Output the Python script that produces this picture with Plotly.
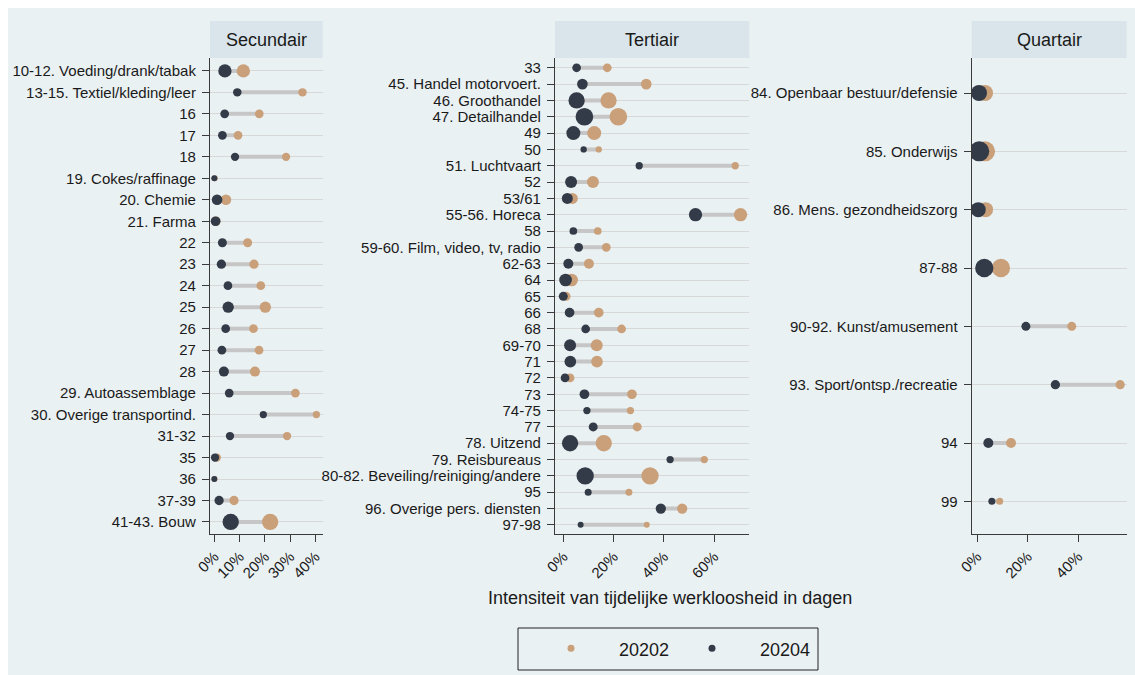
import numpy as np
import plotly.graph_objects as go

# ---- Gegevens per sector -------------------------------------------------
sec_labels = [
    "10-12. Voeding/drank/tabak", "13-15. Textiel/kleding/leer", "16", "17", "18",
    "19. Cokes/raffinage", "20. Chemie", "21. Farma", "22", "23", "24", "25", "26",
    "27", "28", "29. Autoassemblage", "30. Overige transportind.", "31-32", "35",
    "36", "37-39", "41-43. Bouw",
]
sec_20202 = [11.5, 34.9, 17.8, 9.4, 28.4, 0.2, 4.6, 0.6, 13.2, 15.7, 18.4, 20.2,
             15.5, 17.7, 16.1, 32.1, 40.4, 28.8, 1.0, 0.1, 7.8, 22.1]
sec_20204 = [4.2, 9.1, 4.1, 3.2, 8.2, 0.0, 1.1, 0.5, 3.2, 2.8, 5.4, 5.5,
             4.5, 3.0, 3.8, 5.9, 19.4, 6.2, 0.3, 0.0, 1.9, 6.5]
sec_gewicht = [177, 72, 76, 76, 69, 36, 114, 94, 81, 86, 76, 128,
               76, 76, 100, 76, 53, 69, 69, 36, 86, 266]

ter_labels = [
    "33", "45. Handel motorvoert.", "46. Groothandel", "47. Detailhandel", "49",
    "50", "51. Luchtvaart", "52", "53/61", "55-56. Horeca", "58",
    "59-60. Film, video, tv, radio", "62-63", "64", "65", "66", "68", "69-70",
    "71", "72", "73", "74-75", "77", "78. Uitzend", "79. Reisbureaus",
    "80-82. Beveiling/reiniging/andere", "95", "96. Overige pers. diensten", "97-98",
]
ter_20202 = [17.5, 33.0, 18.0, 21.9, 12.3, 14.1, 68.4, 11.8, 3.6, 70.5, 13.7,
             17.1, 10.2, 3.3, 1.1, 14.1, 23.2, 13.3, 13.4, 2.7, 27.3, 26.7,
             29.4, 16.1, 56.1, 34.5, 26.1, 47.3, 33.2]
ter_20204 = [5.3, 7.6, 5.3, 8.4, 4.0, 8.1, 30.2, 3.1, 1.6, 52.6, 4.0,
             6.1, 2.0, 0.9, 0.0, 2.5, 8.9, 2.7, 2.8, 0.7, 8.4, 9.4,
             11.9, 2.7, 42.5, 8.7, 9.9, 38.8, 6.9]
ter_gewicht = [76, 114, 266, 313, 196, 40, 53, 144, 121, 177, 59,
               76, 100, 161, 81, 94, 76, 144, 137, 76, 94, 53,
               81, 266, 53, 299, 49, 106, 36]

qua_labels = [
    "84. Openbaar bestuur/defensie", "85. Onderwijs", "86. Mens. gezondheidszorg",
    "87-88", "90-92. Kunst/amusement", "93. Sport/ontsp./recreatie", "94", "99",
]
qua_20202 = [3.1, 3.1, 3.3, 9.4, 37.5, 56.7, 13.4, 8.9]
qua_20204 = [0.7, 0.8, 0.4, 2.8, 19.3, 31.0, 4.4, 5.8]
qua_gewicht = [256, 400, 225, 335, 81, 86, 100, 49]

panel_titels = ["Secundair", "Tertiair", "Quartair"]
x_ticks = [[0, 10, 20, 30, 40], [0, 20, 40, 60], [0, 20, 40]]
x_bereik = [[-1.7, 42.9], [-3.3, 74.0], [-2.2, 59.3]]
as_titel = "Intensiteit van tijdelijke werkloosheid in dagen"
reeksen = ["20202", "20204"]

# ---- Opmaak --------------------------------------------------------------
W, H = 1135, 675
FONT = "Liberation Sans, Arial, sans-serif"
TXT = "#1a1a1a"
KLEUR_20202 = "#C9A07A"
KLEUR_20204 = "#343B48"
ACHTERGROND = "#EAF1F3"
STRIP = "#D9E5EA"
VERBINDING = "#C6C6C6"
RASTER = "#D8D8D8"
ASLIJN = "#3a3a3a"


def px_x(px):
    return px / W


def px_y(px):
    return 1 - px / H


plot_top, plot_bottom = 58, 534
x_domeinen = [(210, 322.7), (555, 749.3), (971.7, 1126.7)]

panels = [
    (sec_labels, sec_20202, sec_20204, sec_gewicht),
    (ter_labels, ter_20202, ter_20204, ter_gewicht),
    (qua_labels, qua_20202, qua_20204, qua_gewicht),
]

fig = go.Figure()
layout = dict(
    width=W, height=H,
    margin=dict(l=0, r=0, t=0, b=0, pad=0, autoexpand=False),
    paper_bgcolor="white",
    plot_bgcolor="white",
    showlegend=False,
    font=dict(family=FONT, color=TXT, size=15),
)

shapes = [
    dict(type="rect", xref="paper", yref="paper",
         x0=px_x(8), x1=1, y0=0, y1=px_y(8),
         fillcolor=ACHTERGROND, line=dict(width=0), layer="below"),
]
annotations = []

for i, (labels, v2, v4, gew) in enumerate(panels):
    n = len(labels)
    pos = np.arange(1, n + 1)
    ax = "" if i == 0 else str(i + 1)
    xref, yref = "x" + ax, "y" + ax
    size = np.sqrt(np.array(gew, dtype=float))

    # grijze verbindingslijn tussen beide kwartalen
    lx, ly = [], []
    for a, b, p in zip(v4, v2, pos):
        lx += [a, b, None]
        ly += [p, p, None]
    fig.add_trace(go.Scatter(x=lx, y=ly, mode="lines", xaxis=xref, yaxis=yref,
                             line=dict(color=VERBINDING, width=4),
                             hoverinfo="skip"))
    fig.add_trace(go.Scatter(x=v2, y=pos, mode="markers", name=reeksen[0],
                             xaxis=xref, yaxis=yref,
                             marker=dict(color=KLEUR_20202, size=size, opacity=1,
                                         line=dict(width=0))))
    fig.add_trace(go.Scatter(x=v4, y=pos, mode="markers", name=reeksen[1],
                             xaxis=xref, yaxis=yref,
                             marker=dict(color=KLEUR_20204, size=size, opacity=1,
                                         line=dict(width=0))))

    d0, d1 = x_domeinen[i]
    layout["xaxis" + ax] = dict(
        domain=[px_x(d0), px_x(d1)], range=x_bereik[i], anchor=yref,
        automargin=False,
        tickmode="array", tickvals=x_ticks[i],
        ticktext=[f"{v}%" for v in x_ticks[i]], tickangle=-45,
        ticks="outside", ticklen=7, tickcolor=ASLIJN, tickwidth=1,
        showgrid=False, zeroline=False,
        showline=True, linecolor=ASLIJN, linewidth=1.2, mirror=False,
        tickfont=dict(size=15, color=TXT, family=FONT),
    )
    layout["yaxis" + ax] = dict(
        domain=[px_y(plot_bottom), px_y(plot_top)], range=[n + 0.56, 0.4],
        anchor=xref, automargin=False,
        tickmode="array", tickvals=list(pos), ticktext=labels,
        ticks="outside", ticklen=7, tickcolor=ASLIJN, tickwidth=1,
        showgrid=True, gridcolor=RASTER, gridwidth=1, zeroline=False,
        showline=True, linecolor=ASLIJN, linewidth=1.2,
        tickfont=dict(size=15, color=TXT, family=FONT),
        ticklabelstandoff=3,
    )

    # kopbalk met paneltitel
    shapes.append(dict(type="rect", xref="paper", yref="paper",
                       x0=px_x(d0), x1=px_x(d1), y0=px_y(plot_top), y1=px_y(21),
                       fillcolor=STRIP, line=dict(width=0), layer="below"))
    annotations.append(dict(text=panel_titels[i], xref="paper", yref="paper",
                            x=px_x((d0 + d1) / 2), y=px_y(40), showarrow=False,
                            xanchor="center", yanchor="middle",
                            font=dict(size=18, color=TXT, family=FONT)))

# gemeenschappelijke astitel
annotations.append(dict(text=as_titel, xref="paper", yref="paper",
                        x=px_x(670), y=px_y(598), showarrow=False,
                        xanchor="center", yanchor="middle",
                        font=dict(size=18, color=TXT, family=FONT)))

# legende in een kader onderaan
lg_l, lg_r, lg_t, lg_b = 518, 818, 628, 670
shapes.append(dict(type="rect", xref="paper", yref="paper",
                   x0=px_x(lg_l), x1=px_x(lg_r), y0=px_y(lg_b), y1=px_y(lg_t),
                   fillcolor="rgba(0,0,0,0)", line=dict(color="#222222", width=1),
                   layer="above"))
layout["xaxis4"] = dict(domain=[px_x(lg_l), px_x(lg_r)], range=[0, 300],
                        anchor="y4", visible=False, fixedrange=True,
                        automargin=False)
layout["yaxis4"] = dict(domain=[px_y(lg_b), px_y(lg_t)], range=[0, 1],
                        anchor="x4", visible=False, fixedrange=True,
                        automargin=False)
sleutel_x = [53, 194]
for kx, naam, kleur in zip(sleutel_x, reeksen, [KLEUR_20202, KLEUR_20204]):
    fig.add_trace(go.Scatter(x=[kx], y=[0.52], mode="markers", xaxis="x4",
                             yaxis="y4", marker=dict(color=kleur, size=7, opacity=1),
                             hoverinfo="skip"))
    annotations.append(dict(text=naam, xref="x4", yref="y4", x=kx + 46, y=0.47,
                            showarrow=False, xanchor="left", yanchor="middle",
                            font=dict(size=18, color=TXT, family=FONT)))

layout["shapes"] = shapes
layout["annotations"] = annotations
fig.update_layout(**layout)

fig.write_html("out.html")
